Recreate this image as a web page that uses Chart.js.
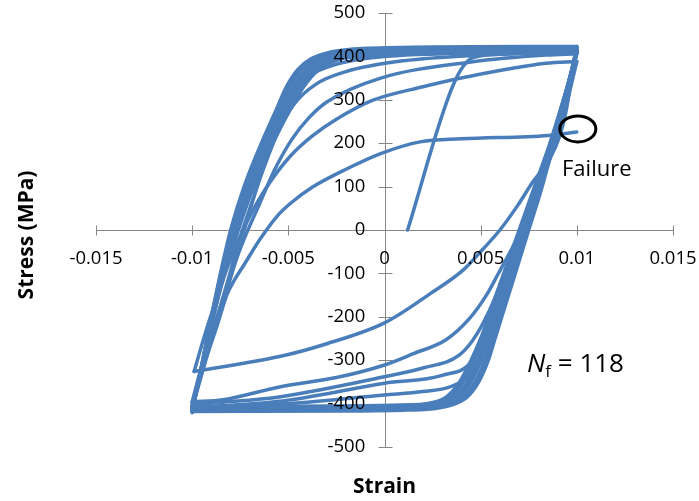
<!DOCTYPE html>
<html>
<head>
  <meta charset="UTF-8">
  <title>Stress-strain hysteresis loops</title>
  <script src="https://cdn.jsdelivr.net/npm/chart.js"></script>
  <style>
    html, body { margin: 0; padding: 0; background: #fff; }
    .chart-container { position: relative; width: 699px; height: 501px; }
  </style>
</head>
<body>
  <div class="chart-container">
    <canvas id="loopChart" width="699" height="501"></canvas>
  </div>

  <script>
    // [strain, stress (MPa)], in test order
    const firstLoading = [[0.0012, 0], [0.0036, 337], [0.0046, 397], [0.006, 405], [0.008, 410], [0.01, 413]];

    // hardening cycles
    const down1 = [[0.01, 413], [0.0097, 340], [0.0094, 265], [0.0091, 215], [0.0086, 165], [0.0077, 110],
      [0.0069, 55], [0.006, 0], [0.0051, -45], [0.0041, -92], [0.0024, -146], [0, -214], [-0.003, -262],
      [-0.0054, -291], [-0.0099, -326]];
    const up1 = [[-0.0099, -326], [-0.0094, -250], [-0.0089, -180], [-0.0084, -115], [-0.0079, -55], [-0.0073, 5],
      [-0.0066, 65], [-0.0058, 120], [-0.0049, 170], [-0.0038, 215], [-0.0025, 255], [-0.0006, 299], [0.002, 330],
      [0.0043, 353], [0.0084, 384], [0.01, 388]];
    const down2 = [[0.01, 388], [0.0094, 280], [0.0088, 190], [0.0081, 100], [0.0074, 25], [0.0066, -45],
      [0.0059, -102], [0.0053, -150], [0.0044, -205], [0.0032, -253], [0.0015, -285], [0, -311], [-0.0025, -340],
      [-0.0054, -361], [-0.0084, -391], [-0.01, -396]];
    const up2 = [[-0.01, -396], [-0.0093, -280], [-0.0087, -200], [-0.0081, -120], [-0.0076, -55], [-0.0072, -10],
      [-0.0065, 60], [-0.0057, 140], [-0.0048, 210], [-0.0039, 260], [-0.003, 295], [-0.0002, 350], [0.0045, 387],
      [0.0084, 403], [0.01, 406]];
    const down3 = [[0.01, 406], [0.0094, 300], [0.0088, 200], [0.008, 100], [0.0072, 10], [0.0064, -80],
      [0.0057, -161], [0.0048, -240], [0.0039, -288], [0.002, -318], [0, -338], [-0.0054, -384], [-0.0084, -397],
      [-0.01, -402]];
    const up3 = [[-0.01, -402], [-0.0093, -290], [-0.0087, -200], [-0.0081, -110], [-0.0076, -30], [-0.007, 50],
      [-0.0063, 140], [-0.0055, 230], [-0.0047, 290], [-0.0036, 335], [-0.002, 365], [0.001, 390], [0.005, 403],
      [0.01, 410]];
    const down4 = [[0.01, 410], [0.0095, 310], [0.0088, 200], [0.0081, 100], [0.0073, 0], [0.0066, -90],
      [0.006, -160], [0.0053, -230], [0.0046, -299], [0.003, -335], [0, -353], [-0.005, -392], [-0.0085, -405],
      [-0.01, -408]];
    const up4 = [[-0.01, -408], [-0.0093, -300], [-0.0087, -210], [-0.008, -110], [-0.0075, -30], [-0.0069, 60],
      [-0.0062, 160], [-0.0055, 250], [-0.0049, 310], [-0.0041, 350], [-0.003, 375], [-0.001, 395], [0.004, 408],
      [0.01, 413]];
    const down5 = [[0.01, 413], [0.0094, 310], [0.0088, 210], [0.0081, 110], [0.0074, 20], [0.0067, -70],
      [0.0061, -150], [0.0056, -215], [0.0051, -280], [0.0045, -330], [0.0035, -360], [0.002, -372], [0, -380],
      [-0.005, -400], [-0.01, -410]];

    // stabilised cycles, outer to inner (the thick band)
    const satUp1 = [[-0.01, -421], [-0.00945, -300], [-0.009, -200], [-0.00853, -100], [-0.008, 0], [-0.0073, 100],
      [-0.0064, 200], [-0.0057, 270], [-0.0051, 330], [-0.0045, 370], [-0.0038, 395], [-0.0028, 410],
      [-0.0016, 417], [0.0015, 421], [0.01, 423]];
    const satDown1 = [[0.01, 423], [0.0094, 300], [0.0088, 200], [0.0082, 100], [0.0075, 0], [0.0068, -100],
      [0.0061, -200], [0.00575, -250], [0.0054, -300], [0.0049, -350], [0.0043, -385], [0.0037, -400],
      [0.0028, -410], [0.0012, -415], [-0.002, -417], [-0.01, -418]];
    const satUp1b = [[-0.01, -420], [-0.00945, -300], [-0.009, -200], [-0.0085, -100], [-0.00796, 0],
      [-0.00725, 100], [-0.00634, 200], [-0.00563, 270], [-0.00501, 330], [-0.00439, 370], [-0.00364, 395],
      [-0.00255, 408], [-0.0013, 415], [0.0018, 419], [0.01, 421]];
    const satDown1b = [[0.01, 421], [0.00939, 300], [0.00878, 200], [0.00816, 100], [0.00745, 0], [0.00674, -100],
      [0.00603, -200], [0.00568, -250], [0.00531, -300], [0.0048, -350], [0.00419, -385], [0.00355, -400],
      [0.00265, -409], [0.0011, -413], [-0.002, -415], [-0.01, -417]];
    const satUp2 = [[-0.01, -418], [-0.00944, -300], [-0.00898, -200], [-0.00848, -100], [-0.00792, 0],
      [-0.0072, 100], [-0.00628, 200], [-0.00556, 270], [-0.00492, 330], [-0.00428, 370], [-0.00348, 395],
      [-0.0023, 407], [-0.001, 413], [0.002, 417], [0.01, 420]];
    const satDown2 = [[0.01, 420], [0.00938, 300], [0.00876, 200], [0.00812, 100], [0.0074, 0], [0.00668, -100],
      [0.00596, -200], [0.0056, -250], [0.00522, -300], [0.0047, -350], [0.00408, -385], [0.0034, -400],
      [0.0025, -408], [0.001, -412], [-0.002, -414], [-0.01, -416]];
    const satUp3 = [[-0.01, -416], [-0.00943, -300], [-0.00896, -200], [-0.00844, -100], [-0.00784, 0],
      [-0.0071, 100], [-0.00616, 200], [-0.00542, 270], [-0.00474, 330], [-0.00406, 370], [-0.00316, 395],
      [-0.0019, 404], [-0.0005, 410], [0.0025, 414], [0.01, 417]];
    const satDown3 = [[0.01, 417], [0.00936, 300], [0.00872, 200], [0.00804, 100], [0.0073, 0], [0.00656, -100],
      [0.00582, -200], [0.00545, -250], [0.00504, -300], [0.0045, -350], [0.00386, -385], [0.0031, -400],
      [0.002, -406], [0.0005, -410], [-0.003, -412], [-0.01, -413]];
    const satUp3b = [[-0.01, -415], [-0.00943, -300], [-0.00895, -200], [-0.00842, -100], [-0.0078, 0],
      [-0.00705, 100], [-0.0061, 200], [-0.00535, 270], [-0.00465, 330], [-0.00395, 370], [-0.003, 395],
      [-0.00175, 402], [-0.0003, 408], [0.0028, 412], [0.01, 415]];
    const satDown3b = [[0.01, 415], [0.00935, 300], [0.0087, 200], [0.008, 100], [0.00725, 0], [0.0065, -100],
      [0.00575, -200], [0.00538, -250], [0.00495, -300], [0.0044, -350], [0.00375, -385], [0.00295, -400],
      [0.00175, -405], [0.0003, -409], [-0.003, -410], [-0.01, -411]];
    const satUp4 = [[-0.01, -413], [-0.00942, -300], [-0.00894, -200], [-0.00839, -100], [-0.00776, 0],
      [-0.007, 100], [-0.00604, 200], [-0.00528, 270], [-0.00456, 330], [-0.00384, 370], [-0.00284, 395],
      [-0.0016, 401], [0, 407], [0.003, 411], [0.01, 414]];
    const satDown4 = [[0.01, 414], [0.00934, 300], [0.00868, 200], [0.00796, 100], [0.0072, 0], [0.00644, -100],
      [0.00568, -200], [0.0053, -250], [0.00486, -300], [0.0043, -350], [0.00364, -385], [0.0028, -400],
      [0.0015, -404], [0, -408], [-0.003, -409], [-0.01, -410]];
    const satUp5 = [[-0.01, -410], [-0.00941, -300], [-0.00892, -200], [-0.00835, -100], [-0.00768, 0],
      [-0.0069, 100], [-0.00592, 200], [-0.00514, 270], [-0.00438, 330], [-0.00362, 370], [-0.00252, 395],
      [-0.0014, 399], [0, 404], [0.003, 408], [0.01, 411]];
    const satDown5 = [[0.01, 411], [0.00932, 300], [0.00864, 200], [0.00788, 100], [0.0071, 0], [0.00632, -100],
      [0.00554, -200], [0.00515, -250], [0.00468, -300], [0.0041, -350], [0.00342, -385], [0.0025, -400],
      [0.0012, -403], [-0.001, -405], [-0.004, -406], [-0.01, -407]];
    const satUp5b = [[-0.01, -409], [-0.0094, -300], [-0.0089, -200], [-0.00833, -100], [-0.00764, 0],
      [-0.00685, 100], [-0.00586, 200], [-0.00507, 270], [-0.00429, 330], [-0.00351, 370], [-0.00236, 395],
      [-0.0012, 401], [0.001, 405], [0.0045, 408], [0.01, 410]];
    const satDown5b = [[0.01, 410], [0.00931, 300], [0.00862, 200], [0.00784, 100], [0.00705, 0], [0.00626, -100],
      [0.00547, -200], [0.00508, -250], [0.00459, -300], [0.004, -350], [0.00331, -385], [0.00235, -400],
      [0.0011, -404], [-0.002, -406], [-0.01, -409]];
    const satUp6 = [[-0.01, -407], [-0.0094, -300], [-0.0089, -200], [-0.0083, -100], [-0.0076, 0], [-0.0068, 100],
      [-0.0058, 200], [-0.005, 270], [-0.0042, 330], [-0.0034, 370], [-0.0022, 395], [-0.001, 403],
      [0.002, 407], [0.01, 409]];
    const satDown6 = [[0.01, 409], [0.0093, 300], [0.0086, 200], [0.0078, 100], [0.007, 0], [0.0062, -100],
      [0.0054, -200], [0.005, -250], [0.0045, -300], [0.0039, -350], [0.0032, -385], [0.0022, -400],
      [0.001, -405], [-0.003, -408], [-0.01, -412]];

    // last cycle, cracked in tension
    const upFail = [[-0.01, -412], [-0.0093, -300], [-0.0087, -220], [-0.0082, -150], [-0.0078, -115],
      [-0.0073, -80], [-0.0065, -23], [-0.0056, 31], [-0.0049, 61], [-0.0037, 100], [-0.002, 140], [-0.0002, 176],
      [0.00185, 203], [0.004, 210], [0.0085, 218], [0.01, 226]];

    const branches = [firstLoading, down1, up1, down2, up2, down3, up3, down4, up4, down5,
      satUp1, satDown1, satUp1b, satDown1b, satUp2, satDown2, satUp3, satDown3, satUp3b, satDown3b,
      satUp4, satDown4, satUp5, satDown5, satUp5b, satDown5b, satUp6, satDown6, upFail];

    const xTicks = [-0.015, -0.01, -0.005, 0, 0.005, 0.01, 0.015];
    const yTicks = [-500, -400, -300, -200, -100, 0, 100, 200, 300, 400, 500];

    const failureLabel = 'Failure';
    const failurePoint = [0.01, 226];
    const cyclesLabel = '118';

    const lineBlue = '#4a7ebb';
    const axisGray = '#868686';
    const fontFamily = "'Open Sans', sans-serif";

    const datasets = branches.map((b, i) => ({
      label: 'branch ' + i,
      data: b.map(p => ({ x: p[0], y: p[1] })),
      showLine: true,
      borderColor: lineBlue,
      backgroundColor: lineBlue,
      borderWidth: 3.5,
      borderJoinStyle: 'round',
      borderCapStyle: 'round',
      pointRadius: 0,
      cubicInterpolationMode: 'monotone'
    }));

    // axis lines with cross ticks under the loops, titles and notes on top
    const decorations = {
      id: 'decorations',
      beforeDatasetsDraw(chart) {
        const { ctx, scales: { x, y } } = chart;
        const x0 = Math.round(x.getPixelForValue(0)) + 0.5;
        const y0 = Math.round(y.getPixelForValue(0)) + 0.5;
        ctx.save();
        ctx.strokeStyle = axisGray;
        ctx.lineWidth = 1;
        ctx.beginPath();
        ctx.moveTo(x.left, y0);
        ctx.lineTo(x.right, y0);
        ctx.moveTo(x0, y.top);
        ctx.lineTo(x0, y.bottom);
        xTicks.forEach(v => {
          const px = Math.round(x.getPixelForValue(v)) + 0.5;
          ctx.moveTo(px, y0 - 5);
          ctx.lineTo(px, y0 + 5);
        });
        yTicks.forEach(v => {
          const py = Math.round(y.getPixelForValue(v)) + 0.5;
          ctx.moveTo(x0 - 7, py);
          ctx.lineTo(x0 + 7, py);
        });
        ctx.stroke();
        ctx.restore();
      },
      afterDatasetsDraw(chart) {
        const { ctx, scales: { x, y } } = chart;
        ctx.save();
        ctx.fillStyle = '#000';

        ctx.font = 'bold 21px ' + fontFamily;
        ctx.textAlign = 'center';
        ctx.textBaseline = 'middle';
        ctx.fillText('Strain', x.getPixelForValue(0), 487);
        ctx.save();
        ctx.translate(27, 235);
        ctx.rotate(-Math.PI / 2);
        ctx.fillText('Stress (MPa)', 0, 0);
        ctx.restore();

        const fx = x.getPixelForValue(failurePoint[0]);
        const fy = y.getPixelForValue(failurePoint[1]);
        ctx.strokeStyle = '#000';
        ctx.lineWidth = 3;
        ctx.beginPath();
        ctx.ellipse(fx + 1, fy - 3, 18, 13, 0, 0, Math.PI * 2);
        ctx.stroke();
        ctx.font = '22px ' + fontFamily;
        ctx.textAlign = 'left';
        ctx.textBaseline = 'alphabetic';
        ctx.fillText(failureLabel, 562, 176);

        let tx = 527;
        const base = 372;
        ctx.font = 'italic 26px ' + fontFamily;
        ctx.fillText('N', tx, base);
        tx += ctx.measureText('N').width;
        ctx.font = '17px ' + fontFamily;
        ctx.fillText('f', tx, base + 5);
        tx += ctx.measureText('f').width;
        ctx.font = '26px ' + fontFamily;
        ctx.fillText(' = ' + cyclesLabel, tx, base);
        ctx.restore();
      }
    };

    const zeroFit = s => {
      if (s.axis === 'x') s.height = 0; else s.width = 0;
      s.paddingLeft = 0;
      s.paddingRight = 0;
      s.paddingTop = 0;
      s.paddingBottom = 0;
    };

    const ctx = document.getElementById('loopChart').getContext('2d');
    const loopChart = new Chart(ctx, {
      type: 'scatter',
      data: { datasets: datasets },
      options: {
        responsive: false,
        animation: false,
        layout: { padding: { left: 96, right: 26, top: 13, bottom: 54 } },
        scales: {
          x: {
            type: 'linear',
            position: { y: 0 },
            min: -0.015,
            max: 0.015,
            afterFit: zeroFit,
            afterBuildTicks: s => { s.ticks = xTicks.map(v => ({ value: v })); },
            ticks: {
              z: 1,
              padding: 18,
              color: '#000',
              font: { family: fontFamily, size: 18.5 },
              maxRotation: 0,
              callback: v => String(parseFloat(Number(v).toFixed(4)))
            },
            grid: { display: false, drawTicks: false },
            border: { display: false }
          },
          y: {
            type: 'linear',
            position: { x: 0 },
            min: -500,
            max: 500,
            afterFit: zeroFit,
            afterBuildTicks: s => { s.ticks = yTicks.map(v => ({ value: v })); },
            ticks: {
              z: 1,
              padding: 20,
              color: '#000',
              font: { family: fontFamily, size: 18.5 },
              callback: v => String(v) + '    '
            },
            grid: { display: false, drawTicks: false },
            border: { display: false }
          }
        },
        plugins: {
          legend: { display: false },
          tooltip: { enabled: false }
        }
      },
      plugins: [decorations]
    });
  </script>
</body>
</html>
